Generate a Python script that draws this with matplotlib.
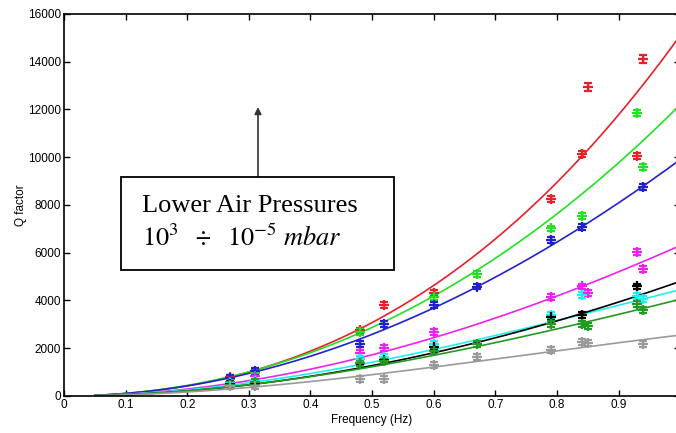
import numpy as np
import matplotlib
matplotlib.use('Agg')
import matplotlib.pyplot as plt

# ------------------------------------------------------------------------------
# Datos medidos (frecuencia en Hz, factor Q) por serie
# ------------------------------------------------------------------------------
f_red = [0.27, 0.31, 0.48, 0.52, 0.60, 0.79, 0.84, 0.85, 0.93, 0.94]
q_red = [780, 1000, 2750, 3810, 4310, 8250, 10130, 12940, 10050, 14110]

f_green = [0.27, 0.31, 0.48, 0.60, 0.67, 0.79, 0.84, 0.93, 0.94]
q_green = [700, 950, 2680, 4150, 5110, 7030, 7540, 11850, 9590]

f_blue = [0.27, 0.31, 0.48, 0.52, 0.60, 0.67, 0.79, 0.84, 0.94]
q_blue = [750, 1050, 2180, 3020, 3810, 4570, 6530, 7080, 8750]

f_magenta = [0.27, 0.31, 0.48, 0.52, 0.60, 0.79, 0.84, 0.85, 0.93, 0.94]
q_magenta = [600, 840, 1800, 2010, 2680, 4150, 4600, 4310, 6030, 5320]

f_cyan = [0.27, 0.31, 0.48, 0.52, 0.60, 0.79, 0.84, 0.93, 0.94]
q_cyan = [560, 620, 1550, 1630, 2180, 3390, 4230, 4190, 4060]

f_black = [0.27, 0.31, 0.48, 0.52, 0.60, 0.79, 0.84, 0.93]
q_black = [500, 560, 1400, 1500, 2060, 3300, 3390, 4600]

f_dkgreen = [0.27, 0.31, 0.48, 0.52, 0.60, 0.67, 0.79, 0.84, 0.85, 0.93, 0.94]
q_dkgreen = [480, 590, 1380, 1480, 1880, 2180, 3020, 3020, 2930, 3850, 3600]

f_gray = [0.27, 0.31, 0.48, 0.52, 0.60, 0.67, 0.79, 0.84, 0.85, 0.94]
q_gray = [400, 420, 710, 710, 1300, 1630, 1930, 2260, 2220, 2180]

# Coeficientes del ajuste Q = a*f^2 + b*f^3
fit_a = {'red': 9500, 'green': 10776, 'blue': 10750, 'magenta': 7500,
         'cyan': 6846, 'black': 5372, 'dkgreen': 5747, 'gray': 4582}
fit_b = {'red': 5600, 'green': 1424, 'blue': -850, 'magenta': -1200,
         'cyan': -2396, 'black': -572, 'dkgreen': -1697, 'gray': -2032}

colores = {'red': '#e8202a', 'green': '#22e022', 'blue': '#2222cc',
           'magenta': '#ee22ee', 'cyan': '#22eeee', 'black': '#000000',
           'dkgreen': '#239a23', 'gray': '#9a9a9a'}

series = [('red', f_red, q_red), ('green', f_green, q_green),
          ('blue', f_blue, q_blue), ('magenta', f_magenta, q_magenta),
          ('cyan', f_cyan, q_cyan), ('black', f_black, q_black),
          ('dkgreen', f_dkgreen, q_dkgreen), ('gray', f_gray, q_gray)]

plt.rcParams['font.family'] = ['Liberation Sans', 'DejaVu Sans']
plt.rcParams['mathtext.fontset'] = 'stix'

fig = plt.figure(figsize=(6.76, 4.33), dpi=100)
ax = fig.add_axes([0.0947, 0.0855, 0.9115, 0.8822])

# Curvas de ajuste y puntos con barras de error
f_fit = np.linspace(0.05, 1.0, 200)
for nombre, f, q in series:
    c = colores[nombre]
    q_fit = fit_a[nombre] * f_fit**2 + fit_b[nombre] * f_fit**3
    ax.plot(f_fit, q_fit, '-', color=c, lw=1.2, zorder=2)
    err = [max(110, 0.012 * v) for v in q]
    ax.errorbar(f, q, yerr=err, fmt='+', color=c, ms=7, mew=1.6,
                elinewidth=1.0, capsize=3, capthick=1.3, zorder=3)

ax.set_xlim(0, 1)
ax.set_ylim(0, 16000)
ax.set_xticks(np.arange(0, 1.0, 0.1))
ax.set_xticklabels(['0', '0.1', '0.2', '0.3', '0.4', '0.5', '0.6', '0.7', '0.8', '0.9'])
ax.set_yticks(np.arange(0, 16001, 2000))
ax.tick_params(direction='in', top=True, right=True, length=4, width=1,
               labelsize=8.5, pad=2)
for s in ax.spines.values():
    s.set_linewidth(1.2)
ax.set_xlabel('Frequency (Hz)', fontsize=8.5, labelpad=2)
ax.set_ylabel('Q factor', fontsize=8.5, labelpad=1)

# Anotacion con caja y flecha
fig.patches.append(plt.Rectangle((121 / 676, 1 - 270 / 433), 273 / 676, 93 / 433,
                                 transform=fig.transFigure, fill=True,
                                 facecolor='white', edgecolor='black', lw=1.3,
                                 zorder=5))
ax.annotate('', xy=(258 / 676, 1 - 107 / 433), xytext=(258 / 676, 1 - 177 / 433),
            xycoords='figure fraction', textcoords='figure fraction',
            arrowprops=dict(arrowstyle='-|>', color='#333333', lw=1.2,
                            mutation_scale=10, shrinkA=0, shrinkB=0))
fig.text(142 / 676, 1 - 212 / 433, 'Lower Air Pressures', family='Liberation Serif',
         fontsize=19, va='baseline', ha='left', zorder=6)
fig.text(142 / 676, 1 - 246 / 433, r'$10^3\ \ \div\ \ 10^{-5}\ mbar$',
         fontsize=19, va='baseline', ha='left', zorder=6)

fig.savefig('out.png', dpi=100)
